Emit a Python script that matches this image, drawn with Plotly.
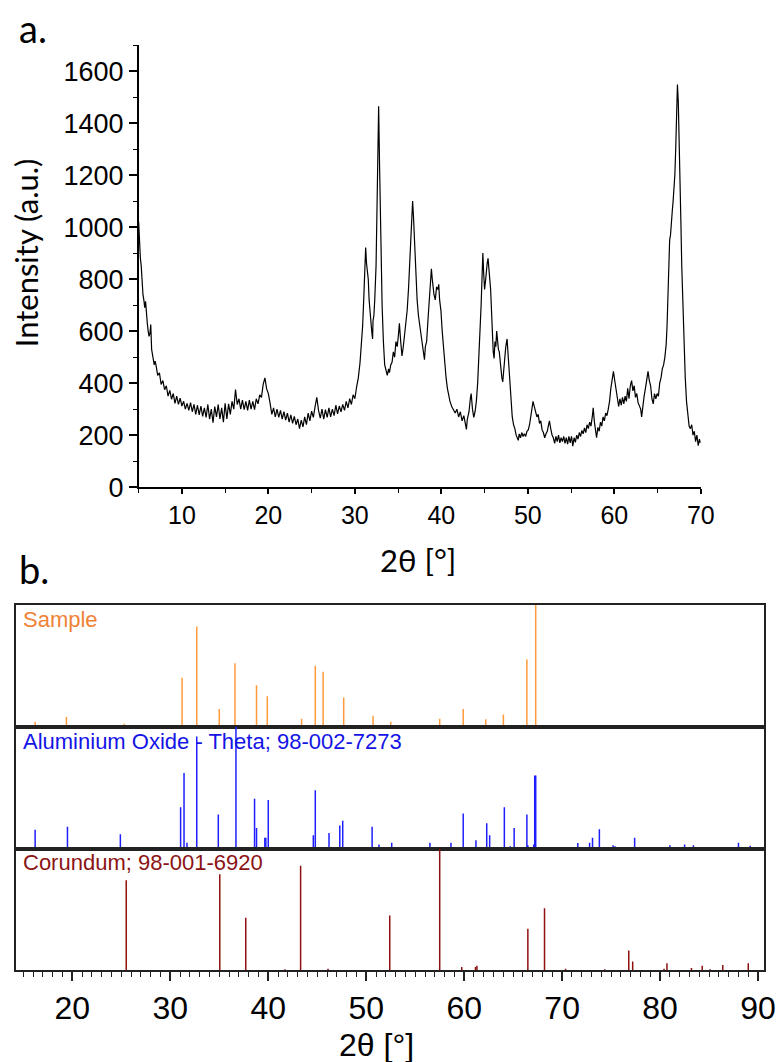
import plotly.graph_objects as go

# ---------------- data: panel a (XRD scan) ----------------
two_theta = [
    5.0, 5.1, 5.2, 5.3, 5.4, 5.5, 5.6, 5.7, 5.8, 5.9, 6.0, 6.1, 6.2, 6.3, 6.4, 6.5, 6.6, 6.7, 6.8, 6.9,
    7.0, 7.2, 7.4, 7.6, 7.8, 8.0, 8.2, 8.4, 8.6, 8.8, 9.0, 9.2, 9.4, 9.6, 9.8, 10.0,
    10.2, 10.4, 10.6, 10.8, 11.0, 11.2, 11.4, 11.6, 11.8, 12.0, 12.2, 12.4, 12.6, 12.8, 13.0,
    13.2, 13.4, 13.6, 13.8, 14.0, 14.2, 14.4, 14.6, 14.8, 15.0, 15.2, 15.4, 15.6, 15.8, 16.0,
    16.2, 16.4, 16.6, 16.8, 17.0, 17.2, 17.4, 17.6, 17.8, 18.0, 18.2, 18.4, 18.6, 18.8, 19.0,
    19.2, 19.4, 19.6, 19.8, 20.0, 20.2, 20.4, 20.6, 20.8, 21.0, 21.2, 21.4, 21.6, 21.8, 22.0,
    22.2, 22.4, 22.6, 22.8, 23.0, 23.2, 23.4, 23.6, 23.8, 24.0, 24.2, 24.4, 24.6, 24.8, 25.0,
    25.2, 25.4, 25.6, 25.8, 26.0, 26.2, 26.4, 26.6, 26.8, 27.0, 27.2, 27.4, 27.6, 27.8, 28.0,
    28.2, 28.4, 28.6, 28.8, 29.0, 29.2, 29.4, 29.6, 29.8, 30.0, 30.2, 30.4,
    30.6, 30.8, 30.9, 31.0, 31.1, 31.2, 31.25, 31.35, 31.45, 31.55, 31.65, 31.75, 31.85, 31.95,
    32.05, 32.1, 32.2, 32.3, 32.45, 32.55, 32.65, 32.75, 32.85, 32.95, 33.05, 33.15, 33.3, 33.45,
    33.6, 33.75, 33.9, 34.0, 34.15, 34.3, 34.45, 34.6, 34.75, 34.9, 35.05, 35.15, 35.3, 35.45,
    35.6, 35.75, 35.9, 36.05, 36.2, 36.35, 36.5, 36.6, 36.68, 36.78, 36.88, 36.98, 37.1, 37.2,
    37.35, 37.5, 37.65, 37.8, 37.95, 38.05, 38.15, 38.3, 38.45, 38.6, 38.75, 38.85, 38.95, 39.05,
    39.15, 39.3, 39.45, 39.6, 39.7, 39.8, 39.95, 40.1, 40.25, 40.4, 40.55, 40.7, 40.85, 41.0,
    41.2, 41.4, 41.6, 41.8, 42.0, 42.2, 42.4, 42.6, 42.8, 42.9, 43.0, 43.2, 43.35, 43.45, 43.6,
    43.75, 43.9, 44.05, 44.2, 44.35, 44.5, 44.6, 44.7, 44.8, 44.9, 45.0, 45.1, 45.2, 45.3, 45.4,
    45.5, 45.6, 45.7, 45.8, 45.9, 46.0, 46.1, 46.2, 46.3, 46.4, 46.5, 46.6, 46.7, 46.8, 46.9,
    47.0, 47.1, 47.2, 47.3, 47.45, 47.6, 47.7, 47.8, 47.9, 48.0, 48.1, 48.2, 48.35, 48.5, 48.65,
    48.8, 48.9, 49.0, 49.15, 49.3, 49.45, 49.6, 49.75, 49.9, 50.05, 50.2, 50.35, 50.5, 50.6,
    50.75, 50.9, 51.05, 51.2, 51.35, 51.5, 51.65, 51.8, 51.95, 52.1, 52.25, 52.4, 52.5, 52.65,
    52.8, 52.95, 53.1, 53.25, 53.4, 53.55, 53.7, 53.85, 54.0, 54.15, 54.3, 54.45, 54.6, 54.75,
    54.9, 55.05, 55.2, 55.35, 55.5, 55.65, 55.8, 55.95, 56.1, 56.25, 56.4, 56.55, 56.7, 56.85,
    57.0, 57.15, 57.3, 57.45, 57.56, 57.7, 57.85, 57.95, 58.1, 58.25, 58.4, 58.55, 58.7, 58.85,
    59.0, 59.15, 59.3, 59.45, 59.6, 59.75, 59.9, 60.05, 60.2, 60.35, 60.5, 60.65, 60.8, 60.95,
    61.1, 61.25, 61.4, 61.55, 61.7, 61.85, 62.0, 62.15, 62.3, 62.45, 62.6, 62.75, 62.9, 63.05,
    63.16, 63.3, 63.45, 63.6, 63.75, 63.9, 64.05, 64.2, 64.35, 64.5, 64.65, 64.8, 64.95, 65.1,
    65.25, 65.4, 65.55, 65.7, 65.85, 66.0, 66.1, 66.2, 66.3, 66.4, 66.5, 66.6, 66.7, 66.8, 66.9,
    67.0, 67.1, 67.2, 67.3, 67.4, 67.5, 67.6, 67.7, 67.8, 67.9, 68.0, 68.1, 68.2, 68.35, 68.5,
    68.65, 68.8, 68.95, 69.1, 69.25, 69.4, 69.55, 69.7, 69.85, 69.95,
]
intensity = [
    1020, 940, 880, 850, 780, 740, 720, 690, 715, 660, 630, 600, 580, 590, 625, 530, 500, 490, 470, 485,
    470, 430, 440, 395, 410, 375, 390, 350, 372, 338, 360, 322, 350, 318, 342, 312,
    330, 300, 322, 295, 325, 290, 318, 280, 315, 278, 312, 272, 305, 268, 318,
    262, 300, 248, 310, 270, 318, 262, 305, 250, 322, 262, 320, 280, 330, 300,
    375, 318, 340, 300, 335, 298, 330, 295, 335, 300, 330, 298, 340, 320, 355,
    345, 395, 420, 378, 360, 322, 280, 305, 270, 300, 268, 295, 262, 290, 258,
    285, 250, 278, 245, 272, 240, 262, 225, 258, 232, 270, 240, 285, 255, 292,
    268, 310, 345, 295, 265, 300, 262, 298, 268, 305, 270, 300, 275, 315, 282,
    312, 290, 318, 295, 330, 305, 340, 318, 355, 340, 385, 420,
    480, 560, 620, 700, 800, 870, 921, 860, 830, 800, 720, 660, 640, 600,
    570, 640, 660, 720, 850, 1050, 1300, 1465, 1250, 1020, 850, 700, 560, 470,
    450, 430, 455, 440, 470, 480, 520, 500, 560, 540, 590, 630, 560, 505,
    540, 580, 620, 680, 760, 880, 1000, 1080, 1100, 1040, 960, 920, 800, 720,
    660, 620, 600, 560, 520, 490, 540, 560, 640, 720, 790, 840, 800, 760,
    740, 720, 770, 760, 780, 720, 680, 600, 530, 470, 420, 380, 350, 330,
    310, 300, 285, 300, 270, 290, 255, 275, 240, 222, 260, 290, 340, 360, 300,
    268, 290, 330, 400, 500, 640, 700, 800, 900, 820, 760, 790, 840, 860, 880,
    850, 800, 760, 700, 600, 520, 495, 560, 540, 600, 560, 530, 520, 480, 440,
    420, 405, 450, 500, 540, 570, 520, 470, 420, 360, 310, 270, 240, 225, 200,
    190, 180, 205, 190, 210, 195, 205, 195, 215, 220, 240, 270, 300, 330,
    310, 290, 270, 280, 245, 255, 220, 210, 190, 205, 215, 240, 255, 225,
    200, 190, 168, 195, 175, 200, 170, 190, 175, 195, 168, 190, 165, 195,
    170, 195, 158, 190, 172, 200, 185, 210, 195, 218, 205, 228, 210, 240,
    225, 250, 235, 270, 305, 250, 200, 190, 230, 215, 250, 235, 270, 255,
    285, 275, 300, 330, 380, 420, 445, 410, 370, 330, 310, 340, 315, 345,
    320, 350, 330, 380, 340, 390, 410, 370, 390, 345, 360, 325, 310, 300,
    270, 320, 350, 380, 420, 445, 410, 390, 340, 320, 360, 340, 360, 350,
    400, 420, 455, 470, 500, 550, 620, 760, 880, 950, 970, 1040, 1060, 1100, 1150,
    1200, 1300, 1450, 1548, 1480, 1360, 1220, 1020, 850, 740, 600, 500, 425, 330, 270,
    235, 225, 240, 200, 215, 175, 200, 160, 185, 170,
]

# ---------------- data: panel b (reference stick patterns) ----------------
sample_pos = [16.2, 19.4, 25.3, 31.2, 32.7, 35.0, 36.6, 38.8, 39.9, 43.4, 44.8, 45.6, 47.7,
              50.7, 52.5, 57.5, 59.9, 62.2, 64.0, 66.4, 67.3]
sample_int = [4, 8, 2.5, 40, 82, 14.5, 52, 34, 25, 6.5, 50, 45, 24,
              9, 4, 6.5, 14.5, 6, 10, 55, 100]

theta_pos = [15.3, 16.2, 19.5, 24.9, 31.05, 31.4, 31.7, 32.7, 34.9, 36.7, 38.6, 38.8, 39.65, 39.75,
             40.0, 44.6, 44.8, 46.2, 47.3, 47.6, 48.8, 50.6, 51.3, 52.6, 56.5, 58.65, 59.9, 61.2,
             62.3, 62.6, 64.1, 64.7, 65.1, 66.4, 66.5, 67.1, 67.2, 67.3, 71.6, 72.8, 73.1, 73.8,
             75.2, 75.4, 77.4, 79.8, 81.0, 82.5, 83.4, 85.6, 86.4, 87.5, 88.0, 89.2]
theta_int = [1, 15.6, 18, 12, 34, 62, 5, 92, 28, 100, 41, 17, 9, 9,
             40, 11, 48, 13, 19, 23, 1, 18, 3.5, 5, 5, 5, 29, 7,
             21, 11, 34, 2, 17, 28, 3, 3.5, 60, 60, 4.7, 5, 9, 16,
             3, 2, 9, 1, 3, 3.5, 3, 1, 1.5, 1.5, 5, 2.5]

corundum_pos = [25.5, 35.05, 37.7, 41.7, 43.3, 46.1, 52.4, 57.5, 59.75, 61.15, 61.3, 66.5,
                68.2, 70.35, 74.35, 76.8, 77.2, 80.4, 80.7, 83.2, 84.3, 85.1, 86.4, 89.0]
corundum_int = [74, 79, 43, 0.5, 86, 1, 45, 100, 2.5, 2.5, 3.5, 34,
                51, 1, 0.5, 16, 7, 1, 5.5, 1.5, 3.5, 0.5, 4, 5.5]

panel_labels = ["Sample", "Aluminium Oxide - Theta; 98-002-7273", "Corundum; 98-001-6920"]
panel_colors = ["#FF9A3D", "#1E1EFF", "#8E1010"]
label_colors = ["#EF8236", "#1414E6", "#8B1414"]

# target picture coordinates (784x1062) are mapped as fractions of the figure
TW, TH = 784, 1062
W, H = 800, 1078


def fx(px):
    return px / TW


def fy(py):
    return 1 - py / TH


def sticks(pos, inten):
    xs, ys = [], []
    for p, v in zip(pos, inten):
        xs += [p, p, None]
        ys += [0, v, None]
    return xs, ys


fig = go.Figure()

fig.add_trace(go.Scatter(x=two_theta, y=intensity, mode="lines",
                         line=dict(color="black", width=1.2), xaxis="x", yaxis="y",
                         showlegend=False, hoverinfo="skip"))

stick_sets = [(sample_pos, sample_int), (theta_pos, theta_int), (corundum_pos, corundum_int)]
axis_ids = [("x2", "y2"), ("x3", "y3"), ("x4", "y4")]
for (pos, inten), (xa, ya), col in zip(stick_sets, axis_ids, panel_colors):
    xs, ys = sticks(pos, inten)
    fig.add_trace(go.Scatter(x=xs, y=ys, mode="lines", line=dict(color=col, width=1.5),
                             xaxis=xa, yaxis=ya, showlegend=False, hoverinfo="skip"))

axis_col = "#222222"

layout = dict(
    width=W, height=H, margin=dict(l=0, r=0, t=0, b=0),
    paper_bgcolor="white", plot_bgcolor="white", showlegend=False,
    xaxis=dict(domain=[fx(138.3), fx(699)], range=[5, 70], anchor="y",
               showline=True, linecolor="black", linewidth=1.5, showgrid=False, zeroline=False,
               ticks="outside", ticklen=5, tickwidth=1.5, tickcolor="black",
               tick0=0, dtick=10,
               tickfont=dict(family="Liberation Sans, Arial", size=25, color="black"),
               minor=dict(ticks="outside", ticklen=4, tickwidth=1.2, dtick=5, tick0=0, tickcolor="black")),
    yaxis=dict(domain=[fy(486.7), fy(45)], range=[0, 1700], anchor="x",
               showline=True, linecolor="black", linewidth=1.5, showgrid=False, zeroline=False,
               ticks="outside", ticklen=8, tickwidth=1.5, tickcolor="black",
               tick0=0, dtick=200,
               tickfont=dict(family="Liberation Sans, Arial", size=27, color="black"),
               minor=dict(ticks="outside", ticklen=4, tickwidth=1.2, dtick=100, tick0=0, tickcolor="black")),
)

panel_px = [(604, 726), (726, 848), (848, 969)]
for i, ((top, bot), (xa, ya)) in enumerate(zip(panel_px, axis_ids)):
    xkey = "xaxis" + xa[1:]
    ykey = "yaxis" + ya[1:]
    last = (i == 2)
    xd = dict(domain=[fx(15.5), fx(762)], range=[14.2, 90.6], anchor=ya,
              showline=True, mirror=True, linecolor=axis_col, linewidth=2,
              showgrid=False, zeroline=False, showticklabels=last)
    if last:
        xd.update(ticks="outside", ticklen=9, tickwidth=1.5, tickcolor=axis_col,
                  tick0=0, dtick=10,
                  tickfont=dict(family="Liberation Sans, Arial", size=32, color="black"),
                  minor=dict(ticks="outside", ticklen=5, tickwidth=1.2, dtick=1, tick0=0,
                             tickcolor=axis_col))
    else:
        xd.update(ticks="")
        xd["matches"] = "x4"
    layout[xkey] = xd
    layout[ykey] = dict(domain=[fy(bot), fy(top)], range=[0, 100], anchor=xa,
                        showline=True, mirror=True, linecolor=axis_col, linewidth=2,
                        showgrid=False, zeroline=False, showticklabels=False, ticks="")

annotations = []
title_font = dict(family="Lato", size=31, color="black")
annotations.append(dict(text="a.", x=fx(17), y=fy(28), xref="paper", yref="paper",
                        xanchor="left", yanchor="middle", showarrow=False,
                        font=dict(family="Lato", size=38, color="black")))
annotations.append(dict(text="b.", x=fx(17), y=fy(568), xref="paper", yref="paper",
                        xanchor="left", yanchor="middle", showarrow=False,
                        font=dict(family="Lato", size=38, color="black")))
annotations.append(dict(text="Intensity (a.u.)", x=fx(26), y=fy(253), xref="paper", yref="paper",
                        xanchor="center", yanchor="middle", showarrow=False, textangle=-90,
                        font=title_font))
annotations.append(dict(text="2θ [°]", x=fx(417), y=fy(559), xref="paper", yref="paper",
                        xanchor="center", yanchor="middle", showarrow=False, font=title_font))
annotations.append(dict(text="2θ [°]", x=fx(376), y=fy(1044), xref="paper", yref="paper",
                        xanchor="center", yanchor="middle", showarrow=False,
                        font=dict(family="Liberation Sans, Arial", size=32, color="black")))
label_y = [619, 741, 862]
for txt, col, ly in zip(panel_labels, label_colors, label_y):
    annotations.append(dict(text=txt, x=fx(21), y=fy(ly), xref="paper", yref="paper",
                            xanchor="left", yanchor="middle", showarrow=False,
                            font=dict(family="Liberation Sans, Arial", size=22, color=col)))
layout["annotations"] = annotations

fig.update_layout(**layout)
fig.write_html("out.html", config={"displayModeBar": False},
               post_script="document.body.style.margin='0';")
